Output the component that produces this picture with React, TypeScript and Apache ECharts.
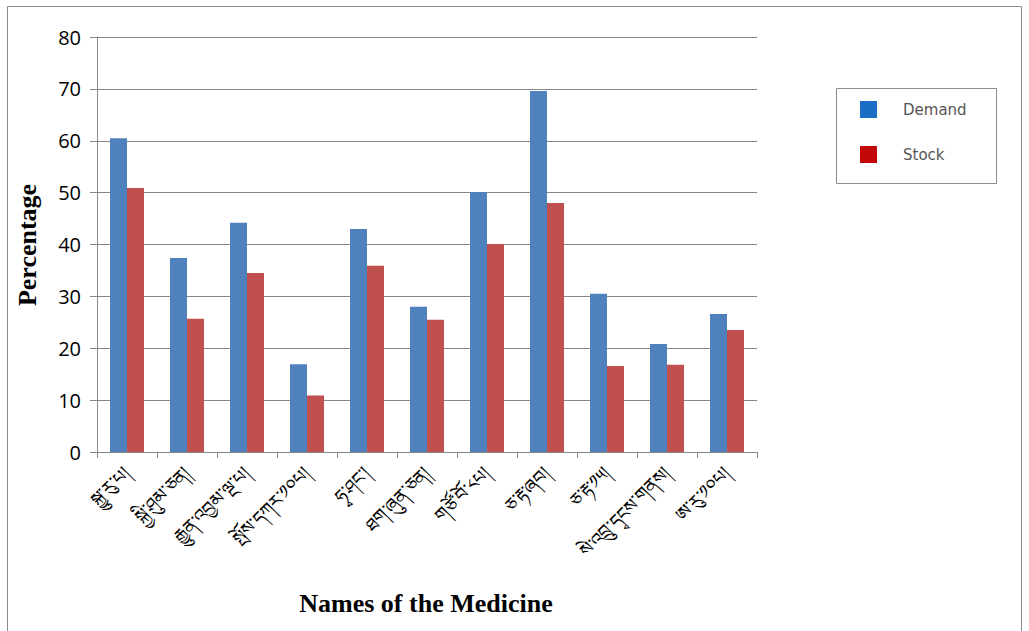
import React, { useEffect, useRef } from "react";
import * as echarts from "echarts";

const categories = [
  "སྐྱུ་རུ་པ།",
  "སྐྱི་ཤུམ་ཅན།",
  "རྒྱུན་འབྱམ་ལྔ་པ།",
  "སྤོས་དཀར་༡༠པ།",
  "ཧྭ་ཤང་།",
  "ཐག་ཞུན་ཅན།",
  "གཙོ་བོ་༨པ།",
  "ཅ་རྟ་ཞབ།",
  "ཅ་རྟ་༡༥།",
  "སེ་འབྲུ་དྭངས་གནས།",
  "ཨ་རུ་༡༠པ།",
];
const demand = [60.5, 37.4, 44.2, 16.9, 43, 28, 50.1, 69.6, 30.5, 20.8, 26.6];
const stock = [50.9, 25.7, 34.5, 10.9, 35.9, 25.5, 40.1, 48, 16.6, 16.8, 23.5];
const seriesNames = ["Demand", "Stock"];

export default function App() {
  const ref = useRef<HTMLDivElement>(null);
  useEffect(() => {
    const chart = echarts.init(ref.current!, undefined, { renderer: "svg" });
    chart.setOption({
      animation: false,
      backgroundColor: "#ffffff",
      grid: { left: 97, top: 37, width: 660, height: 415 },
      xAxis: {
        type: "category",
        data: categories,
        axisLine: { lineStyle: { color: "#868686", width: 1 } },
        axisTick: { show: true, length: 6, lineStyle: { color: "#868686" } },
        axisLabel: {
          rotate: 45,
          margin: 18,
          fontSize: 18,
          color: "#000",
          interval: 0,
        },
      },
      yAxis: {
        type: "value",
        min: 0,
        max: 80,
        interval: 10,
        axisLine: { show: true, lineStyle: { color: "#868686" } },
        axisTick: { show: true, length: 7, lineStyle: { color: "#868686" } },
        axisLabel: {
          fontSize: 20,
          color: "#000",
          margin: 16,
          fontFamily: "Open Sans, Liberation Sans, sans-serif",
        },
        splitLine: { lineStyle: { color: "#868686", width: 1 } },
      },
      legend: {
        orient: "vertical",
        left: 860,
        top: 101,
        padding: 0,
        icon: "rect",
        itemWidth: 17,
        itemHeight: 17,
        itemGap: 28,
        textStyle: { fontSize: 15, color: "#555", padding: [0, 0, 0, 21], fontFamily: "DejaVu Sans, sans-serif" },
        data: [
          { name: seriesNames[0], itemStyle: { color: "#1a6ec6" } },
          { name: seriesNames[1], itemStyle: { color: "#c20808" } },
        ],
      },
      series: [
        {
          name: seriesNames[0],
          type: "bar",
          data: demand,
          barWidth: 17,
          barGap: "0%",
          itemStyle: { color: "#4F81BD" },
        },
        {
          name: seriesNames[1],
          type: "bar",
          data: stock,
          barWidth: 17,
          itemStyle: { color: "#C0504D" },
        },
      ],
      graphic: [
        {
          type: "rect",
          shape: { x: 7.5, y: 6.5, width: 1014, height: 640 },
          style: { fill: "none", stroke: "#8c8c8c", lineWidth: 1 },
          z: -1,
        },
        {
          type: "rect",
          shape: { x: 836.5, y: 88.5, width: 160, height: 95 },
          style: { fill: "#fff", stroke: "#8c8c8c", lineWidth: 1 },
          z: -1,
        },
        {
          type: "text",
          x: 27,
          y: 245,
          rotation: Math.PI / 2,
          style: {
            text: "Percentage",
            font: "bold 26px 'Liberation Serif', 'DejaVu Serif', serif",
            fill: "#000",
            align: "center",
            verticalAlign: "middle",
          },
        },
        {
          type: "text",
          x: 426,
          y: 603,
          style: {
            text: "Names of the Medicine",
            font: "bold 26px 'Liberation Serif', 'DejaVu Serif', serif",
            fill: "#000",
            align: "center",
            verticalAlign: "middle",
          },
        },
      ],
    });
    return () => chart.dispose();
  }, []);
  return (
    <div
      ref={ref}
      style={{ position: "absolute", left: 0, top: 0, width: 1029, height: 631 }}
    />
  );
}
